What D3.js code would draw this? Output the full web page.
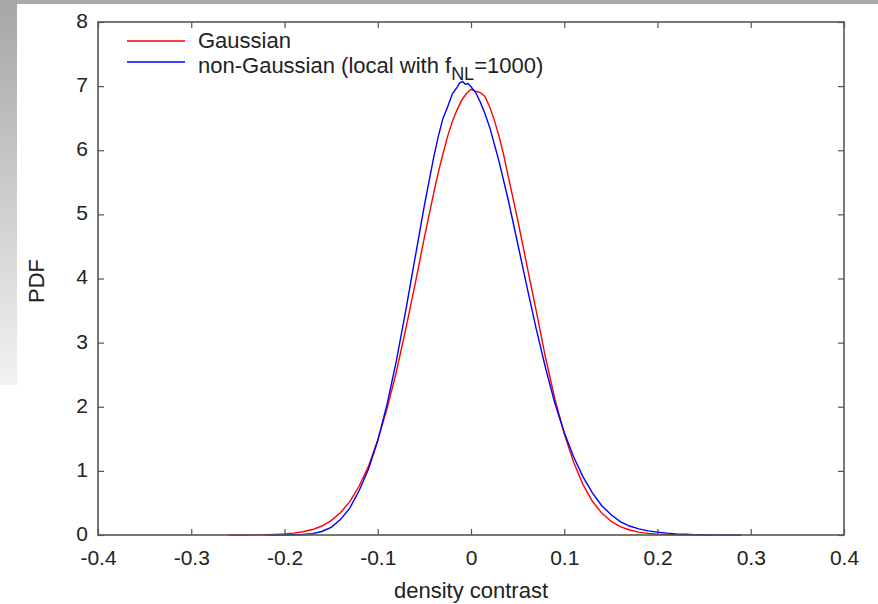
<!DOCTYPE html>
<html><head><meta charset="utf-8">
<script src="https://cdn.jsdelivr.net/npm/d3@7"></script>
<style>body{margin:0;background:#fff} svg{display:block}</style>
</head><body><svg id="c" width="878" height="604"></svg>
<script>
// ---- data ----
const xTicks = [-0.4, -0.3, -0.2, -0.1, 0, 0.1, 0.2, 0.3, 0.4];
const yTicks = [0, 1, 2, 3, 4, 5, 6, 7, 8];
const seriesNames = ["Gaussian", "non-Gaussian (local with f", "NL", "=1000)"];

const gaussX = [-0.26,-0.25,-0.24,-0.23,-0.22,-0.21,-0.20,-0.19,-0.18,-0.17,-0.16,-0.15,-0.14,-0.13,-0.12,-0.11,-0.10,-0.09,-0.08,-0.07,-0.06,-0.05,-0.04,-0.035,-0.03,-0.025,-0.02,-0.015,-0.01,-0.005,0,0.005,0.01,0.015,0.02,0.025,0.03,0.035,0.04,0.05,0.06,0.07,0.08,0.09,0.10,0.11,0.12,0.13,0.14,0.15,0.16,0.17,0.18,0.19,0.20,0.21,0.22,0.23,0.24,0.25,0.26];
const gaussY = [0,0.0006,0.001,0.002,0.005,0.009,0.016,0.029,0.05,0.085,0.14,0.224,0.347,0.52,0.76,1.07,1.48,1.97,2.55,3.21,3.91,4.64,5.33,5.66,5.95,6.22,6.45,6.63,6.78,6.88,6.95,6.92,6.90,6.84,6.68,6.47,6.22,5.93,5.59,4.92,4.20,3.49,2.76,2.12,1.58,1.14,0.79,0.53,0.345,0.215,0.13,0.078,0.045,0.025,0.014,0.007,0.004,0.002,0.001,0.0004,0];

const ngX = [-0.22,-0.21,-0.20,-0.19,-0.18,-0.17,-0.16,-0.15,-0.14,-0.13,-0.12,-0.11,-0.10,-0.09,-0.08,-0.07,-0.06,-0.05,-0.04,-0.035,-0.03,-0.025,-0.02,-0.015,-0.012,-0.009,-0.006,-0.003,0,0.005,0.01,0.015,0.02,0.03,0.04,0.05,0.06,0.07,0.08,0.09,0.10,0.11,0.12,0.13,0.14,0.15,0.16,0.17,0.18,0.19,0.20,0.21,0.22,0.23,0.24,0.25,0.26,0.27,0.28,0.29];
const ngY = [0,0,0.001,0.003,0.008,0.022,0.055,0.12,0.24,0.42,0.69,1.025,1.47,2.04,2.72,3.50,4.32,5.14,5.89,6.22,6.50,6.68,6.88,6.98,7.05,7.07,7.03,7.04,6.99,6.90,6.75,6.57,6.36,5.83,5.22,4.55,3.87,3.21,2.60,2.05,1.60,1.22,0.91,0.66,0.46,0.32,0.21,0.14,0.095,0.065,0.044,0.029,0.018,0.011,0.0065,0.0035,0.0018,0.0007,0,0];

// ---- drawing ----
const W = 878, H = 604;
const m = {left: 98, right: 844, top: 22, bottom: 535};
const svg = d3.select("#c");
const font = "'Liberation Sans', Arial, sans-serif";
const fs = "22px";
const tfs = "21px";

// background decoration (slide frame)
const defs = svg.append("defs");
const grad = defs.append("linearGradient").attr("id","lg").attr("x1",0).attr("y1",0).attr("x2",0).attr("y2",1);
grad.append("stop").attr("offset","0%").attr("stop-color","#a6a6a6");
grad.append("stop").attr("offset","100%").attr("stop-color","#f2f2f2");
svg.append("rect").attr("x",0).attr("y",0).attr("width",W).attr("height",H).attr("fill","#fff");
svg.append("rect").attr("x",0).attr("y",0).attr("width",17).attr("height",385).attr("fill","url(#lg)");
svg.append("rect").attr("x",0).attr("y",0).attr("width",W).attr("height",4).attr("fill","#a9a9a9");

const x = d3.scaleLinear().domain([-0.4, 0.4]).range([m.left, m.right]);
const y = d3.scaleLinear().domain([0, 8]).range([m.bottom, m.top]);

const axColor = "#555";
function styleAxis(g){
  g.select(".domain").remove();
  g.selectAll(".tick line").attr("stroke", axColor).attr("stroke-width", 1.2);
  g.selectAll(".tick text").attr("fill", "#222").style("font-family", font).style("font-size", tfs);
}
svg.append("g").attr("transform",`translate(0,${m.bottom})`)
  .call(d3.axisBottom(x).tickValues(xTicks).tickSize(-6).tickPadding(15).tickFormat(d => String(d)))
  .call(styleAxis);
svg.append("g").attr("transform",`translate(0,${m.top})`)
  .call(d3.axisTop(x).tickValues(xTicks).tickSize(-6).tickFormat(""))
  .call(styleAxis);
svg.append("g").attr("transform",`translate(${m.left},0)`)
  .call(d3.axisLeft(y).tickValues(yTicks).tickSize(-6).tickPadding(10).tickFormat(d => String(d)))
  .call(styleAxis)
  .call(g => g.selectAll(".tick text").attr("dy","0.26em"));
svg.append("g").attr("transform",`translate(${m.right},0)`)
  .call(d3.axisRight(y).tickValues(yTicks).tickSize(-6).tickFormat(""))
  .call(styleAxis);

// curves
const line = d3.line().x(d => x(d[0])).y(d => y(d[1]));
svg.append("path").datum(gaussX.map((v,i)=>[v,gaussY[i]]))
  .attr("d", line).attr("fill","none").attr("stroke","#ff0000").attr("stroke-width",1.4);
svg.append("path").datum(ngX.map((v,i)=>[v,ngY[i]]))
  .attr("d", line).attr("fill","none").attr("stroke","#0000ff").attr("stroke-width",1.4);

// frame
svg.append("rect").attr("x",m.left).attr("y",m.top).attr("width",m.right-m.left).attr("height",m.bottom-m.top)
  .attr("fill","none").attr("stroke",axColor).attr("stroke-width",1.6);

// legend
const lg = svg.append("g").style("font-family", font).style("font-size",fs).attr("fill","#222");
lg.append("line").attr("x1",127).attr("x2",185).attr("y1",41).attr("y2",41).attr("stroke","#ff0000").attr("stroke-width",1.4);
lg.append("line").attr("x1",127).attr("x2",185).attr("y1",62).attr("y2",62).attr("stroke","#0000ff").attr("stroke-width",1.4);
lg.append("text").attr("x",198).attr("y",47.5).text(seriesNames[0]);
const t2 = lg.append("text").attr("x",198).attr("y",72.5);
t2.append("tspan").text(seriesNames[1]);
t2.append("tspan").attr("dy",7).style("font-size","18px").text(seriesNames[2]);
t2.append("tspan").attr("dy",-7).text(seriesNames[3]);

// axis titles
svg.append("text").attr("x", (m.left+m.right)/2).attr("y", 598).attr("text-anchor","middle")
  .style("font-family", font).style("font-size",fs).attr("fill","#222").text("density contrast");
svg.append("text").attr("transform","translate(44,281) rotate(-90)").attr("text-anchor","middle")
  .style("font-family", font).style("font-size",fs).attr("fill","#222").text("PDF");
</script></body></html>
